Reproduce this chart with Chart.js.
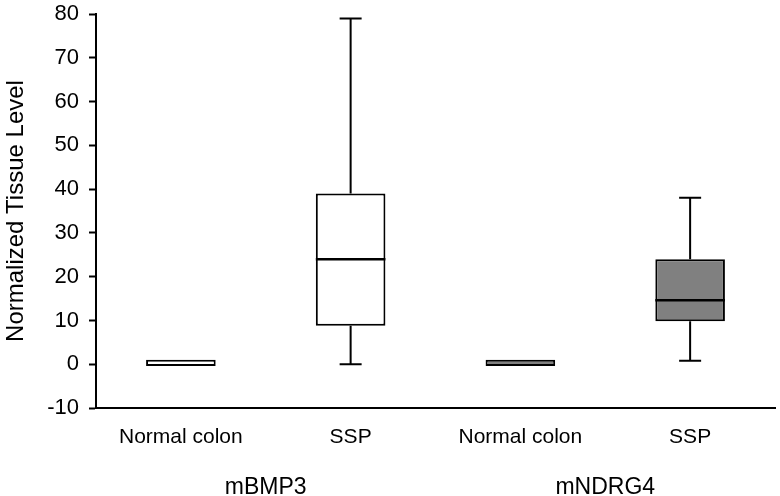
<!DOCTYPE html>
<html>
<head>
<meta charset="utf-8">
<script src="https://cdn.jsdelivr.net/npm/chart.js@4"></script>
<style>
  body { margin: 0; background: white; }
</style>
</head>
<body>
<canvas id="boxChart" width="780" height="496"></canvas>
<script>
const categories = ['Normal colon', 'SSP', 'Normal colon', 'SSP'];
const groups = ['mBMP3', 'mNDRG4'];
const whiskerMin = [0, 0, 0, 0.8];
const q1 = [-0.4, 8.8, -0.4, 9.8];
const median = [-0.4, 24, -0.4, 14.6];
const q3 = [1.0, 39, 1.0, 24];
const whiskerMax = [1.0, 79, 1.0, 38];
const yTicks = [-10, 0, 10, 20, 30, 40, 50, 60, 70, 80];

const boxFill = ['#ffffff', '#ffffff', '#808080', '#808080'];
const fontFamily = '"Liberation Sans", Arial, sans-serif';

// whiskers, caps, medians and group labels, all placed through the chart scales
const boxPlotExtras = {
    id: 'boxPlotExtras',
    afterDatasetsDraw(chart) {
        const ctx = chart.ctx;
        const x = chart.scales.x;
        const y = chart.scales.y;
        const meta = chart.getDatasetMeta(0);
        ctx.save();
        ctx.strokeStyle = '#000';
        categories.forEach((c, i) => {
            const cx = x.getPixelForValue(i);
            const half = meta.data[i].width / 2;
            const cap = 11;
            ctx.lineWidth = 2;
            ctx.beginPath();
            if (whiskerMax[i] > q3[i]) {
                ctx.moveTo(cx, y.getPixelForValue(q3[i]));
                ctx.lineTo(cx, y.getPixelForValue(whiskerMax[i]));
                ctx.moveTo(cx - cap, y.getPixelForValue(whiskerMax[i]));
                ctx.lineTo(cx + cap, y.getPixelForValue(whiskerMax[i]));
            }
            if (whiskerMin[i] < q1[i]) {
                ctx.moveTo(cx, y.getPixelForValue(q1[i]));
                ctx.lineTo(cx, y.getPixelForValue(whiskerMin[i]));
                ctx.moveTo(cx - cap, y.getPixelForValue(whiskerMin[i]));
                ctx.lineTo(cx + cap, y.getPixelForValue(whiskerMin[i]));
            }
            ctx.stroke();
            if (median[i] > q1[i] && median[i] < q3[i]) {
                ctx.lineWidth = 2.5;
                ctx.beginPath();
                ctx.moveTo(cx - half, y.getPixelForValue(median[i]));
                ctx.lineTo(cx + half, y.getPixelForValue(median[i]));
                ctx.stroke();
            }
        });

        ctx.fillStyle = '#000';
        ctx.font = '23px ' + fontFamily;
        ctx.textAlign = 'center';
        ctx.textBaseline = 'middle';
        groups.forEach((g, k) => {
            const gx = (x.getPixelForValue(2 * k) + x.getPixelForValue(2 * k + 1)) / 2;
            ctx.fillText(g, gx, 488);
        });
        ctx.restore();
    }
};

new Chart(document.getElementById('boxChart'), {
    type: 'bar',
    data: {
        labels: categories,
        datasets: [{
            data: categories.map((c, i) => [q1[i], q3[i]]),
            backgroundColor: boxFill,
            borderColor: '#000',
            borderWidth: 2,
            borderSkipped: false,
            barPercentage: 0.41,
            categoryPercentage: 1
        }]
    },
    options: {
        responsive: false,
        animation: false,
        layout: { padding: { top: 14, right: 5, left: 0, bottom: 0 } },
        plugins: {
            legend: { display: false },
            tooltip: { enabled: false }
        },
        scales: {
            x: {
                grid: { display: true, drawOnChartArea: false, drawTicks: false },
                border: { display: true, color: '#000', width: 2 },
                ticks: {
                    color: '#000',
                    padding: 17,
                    maxRotation: 0,
                    font: { family: fontFamily, size: 21 }
                },
                afterFit(scale) { scale.height = 88; }
            },
            y: {
                min: -10,
                max: 80,
                afterBuildTicks(scale) { scale.ticks = yTicks.map(v => ({ value: v })); },
                grid: {
                    drawOnChartArea: false,
                    drawTicks: true,
                    tickLength: 7,
                    tickColor: '#000',
                    tickWidth: 2
                },
                border: { display: true, color: '#000', width: 2 },
                ticks: {
                    color: '#000',
                    padding: 10,
                    font: { family: fontFamily, size: 22 }
                },
                title: {
                    display: true,
                    text: 'Normalized Tissue Level',
                    color: '#000',
                    padding: { top: 2, bottom: 2 },
                    font: { family: fontFamily, size: 24 }
                },
                afterFit(scale) {
                    scale.width = 96;
                    scale.paddingTop = 0;
                    scale.paddingBottom = 0;
                }
            }
        }
    },
    plugins: [boxPlotExtras]
});
</script>
</body>
</html>
